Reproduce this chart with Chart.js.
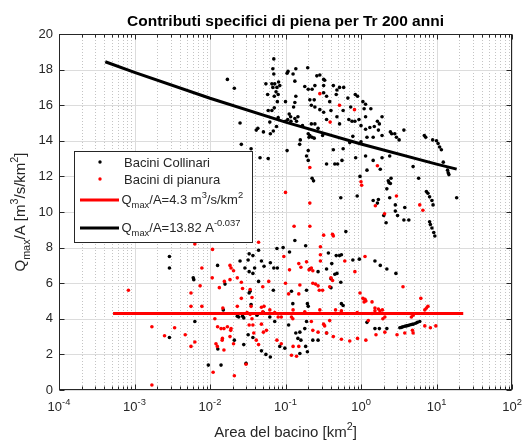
<!DOCTYPE html>
<html>
<head>
<meta charset="utf-8">
<script src="https://cdn.jsdelivr.net/npm/chart.js@4.4.1/dist/chart.umd.min.js"></script>
<style>
  html, body { margin: 0; padding: 0; background: #fff; }
  canvas { display: block; }
</style>
</head>
<body>
<canvas id="chart" width="528" height="444"></canvas>
<script>
// [area km2, Qmax/A]
const collinari = [
  [0.070,18.6],[0.068,18.05],[0.070,17.75],[0.108,17.9],[0.105,17.8],[0.137,18.05],[0.126,17.75],[0.197,18.1],
  [0.133,17.35],[0.26,17.65],[0.285,17.7],[0.32,17.45],[0.017,17.45],[0.055,17.2],[0.066,17.2],[0.072,17.2],
  [0.081,17.3],[0.084,17.1],[0.068,17.0],[0.077,17.0],[0.075,16.75],[0.058,16.6],[0.071,16.5],[0.080,16.6],
  [0.078,16.2],[0.10,16.2],[0.137,16.5],[0.133,16.15],[0.18,17.05],[0.20,16.9],[0.225,16.9],[0.245,17.1],
  [0.32,17.1],[0.33,17.4],[0.43,17.1],[0.52,17.0],[0.021,16.95],[0.21,16.3],[0.24,16.3],[0.22,16.0],
  [0.32,16.7],[0.35,16.5],[0.385,16.2],[0.128,15.9],[0.059,15.7],[0.066,15.7],[0.071,15.85],[0.245,15.9],
  [0.285,15.75],[0.32,15.6],[0.40,15.7],[0.58,15.7],[0.112,15.5],[0.117,15.35],[0.107,15.2],[0.10,15.1],
  [0.118,15.1],[0.133,15.25],[0.14,15.1],[0.146,15.35],[0.08,15.3],[0.062,15.05],[0.076,14.8],[0.025,15.0],
  [0.043,14.7],[0.041,14.6],[0.051,14.5],[0.063,14.4],[0.069,14.55],[0.22,14.95],[0.245,14.95],[0.35,15.2],
  [0.168,14.85],[0.20,14.4],[0.21,14.3],[0.225,14.2],[0.205,14.2],[0.27,14.7],[0.31,14.3],[0.157,14.05],
  [0.154,13.8],[0.24,14.15],[0.026,13.8],[0.035,13.55],[0.046,13.05],[0.059,13.0],[0.105,13.45],[0.20,13.45],
  [0.19,13.15],[0.20,12.9],[0.43,13.5],[0.58,13.55],[0.56,12.9],[0.35,12.7],[0.45,12.7],[0.49,12.7],
  [0.225,11.9],[0.235,11.75],
  [0.59,17.0],[0.48,16.85],[0.47,16.6],[0.67,16.4],[0.84,16.6],[0.90,16.5],[1.06,16.2],[1.15,16.05],
  [0.73,15.9],[1.35,15.8],[1.1,15.8],[0.48,15.35],[0.69,15.2],[0.76,15.1],[0.83,15.1],[0.94,15.2],
  [1.15,15.35],[0.52,14.95],[1.0,14.85],[1.15,14.65],[1.31,14.75],[1.5,14.8],[1.65,15.1],[1.75,14.95],
  [1.7,14.6],[1.9,15.35],[2.45,14.5],[2.55,14.4],[2.8,14.4],[2.95,14.2],[3.2,14.05],[3.7,14.6],
  [0.78,14.25],[0.71,13.9],[1.0,13.95],[1.2,14.2],[1.45,14.2],[1.9,14.3],[6.9,14.3],[7.2,14.2],
  [8.9,14.05],[10.0,14.0],[10.5,13.85],[11.0,13.65],[11.6,13.5],[0.85,13.05],[1.15,13.15],[1.45,12.9],
  [1.8,12.4],[1.9,13.05],[2.4,13.15],[4.9,12.55],[5.8,11.9],[12.3,12.8],[14.0,12.35],[14.3,12.2],
  [14.6,12.1],[0.97,12.0],[1.2,12.35],[2.5,11.9],[2.3,11.75],[2.35,11.65],[2.45,11.6],[2.2,11.3],
  [7.35,11.15],[7.7,11.05],[8.1,10.85],[8.7,10.65],[9.0,10.4],[0.54,10.8],[0.89,10.9],[2.4,10.8],
  [1.45,10.65],[1.7,10.7],[1.65,10.5],[2.85,10.4],[3.8,10.25],[2.85,10.05],[3.05,9.8],[2.0,9.8],
  [2.15,9.4],[3.7,9.55],[4.3,9.55],[8.1,9.45],[8.3,9.3],[8.7,9.1],[9.2,8.85],[9.5,8.65],
  [18.5,10.8],[0.63,8.9],
  [0.133,8.4],[0.185,8.1],[0.077,7.95],[0.093,8.0],[0.113,7.75],[0.033,7.65],[0.037,7.55],[0.044,7.85],
  [0.025,7.25],[0.032,7.3],[0.029,6.85],[0.033,6.65],[0.037,6.55],[0.039,6.85],[0.048,7.25],[0.052,6.95],
  [0.063,7.15],[0.070,6.85],[0.078,6.85],[0.044,6.1],[0.034,5.55],[0.033,5.45],[0.035,4.8],[0.0158,5.95],
  [0.015,4.5],[0.023,4.15],[0.024,4.1],[0.027,4.15],[0.028,4.05],[0.042,4.2],[0.051,4.35],[0.062,4.1],
  [0.12,5.55],[0.125,4.85],[0.195,4.85],[0.20,4.7],[0.21,6.8],[0.27,6.65],[0.19,3.85],[0.18,3.45],
  [0.155,3.25],[0.137,3.2],[0.146,2.9],[0.16,2.8],[0.185,2.45],[0.195,2.15],[0.155,2.05],[0.037,2.95],
  [0.028,2.55],[0.021,2.8],[0.032,3.1],[0.048,2.2],[0.055,2.0],[0.063,1.85],[0.030,1.5],[0.014,1.4],
  [0.0095,1.4],[0.23,2.8],[0.27,2.8],[0.0029,7.5],[0.0029,6.85],[0.0060,6.3],[0.0061,6.2],[0.0063,3.85],
  [0.0029,2.95],[0.0127,2.3],[0.0126,7.0],[0.069,5.6],[0.19,5.6],[0.11,3.65],[0.072,3.85],[0.098,2.35],
  [0.084,2.45],
  [0.37,7.7],[0.47,7.55],[0.52,7.55],[0.55,7.6],[0.41,7.1],[0.35,6.8],[0.78,7.3],[0.95,7.35],
  [1.53,7.25],[1.8,7.0],[2.2,6.8],[2.9,6.55],[0.45,6.5],[0.48,6.55],[0.40,6.25],[0.40,5.75],
  [0.54,6.05],[0.55,4.85],[0.58,4.75],[1.2,3.8],[1.53,3.45],[1.75,3.45],[2.2,3.45],[3.27,3.5],
  [3.45,3.52],[3.6,3.55],[3.8,3.58],[4.0,3.6],[4.2,3.62],[4.4,3.65],[4.65,3.68],[4.9,3.7],
  [5.3,3.75],[5.6,3.8],[6.0,3.85],[0.35,3.2]
];

const pianura = [
  [0.285,16.65],[0.52,16.0],[0.39,15.05],[0.21,12.5],[0.82,15.75],[1.65,12.6],[1.0,11.7],[1.02,11.5],
  [2.95,10.9],[1.55,10.35],[6.0,10.4],[6.6,10.1],[2.05,9.9],[0.10,11.1],[0.21,10.5],[0.13,9.2],
  [0.21,9.2],[0.32,8.7],[0.42,8.75],[0.43,8.65],[0.29,8.05],
  [0.0063,8.2],[0.0108,7.9],[0.044,8.3],[0.0078,6.85],[0.0056,5.45],[0.0074,5.85],[0.0056,4.7],[0.0078,4.7],
  [0.00083,5.6],[0.0017,3.55],[0.0034,3.5],[0.0025,3.05],[0.0047,3.1],[0.0056,2.45],[0.0063,2.7],[0.0017,0.28],
  [0.011,1.0],[0.021,0.8],[0.0107,6.3],[0.0133,5.75],[0.0155,6.1],[0.0148,4.6],[0.0116,4.0],[0.0126,3.55],
  [0.014,3.45],[0.017,3.55],[0.019,3.45],[0.0146,2.9],[0.012,2.6],[0.0125,2.45],[0.0205,2.6],[0.0184,3.0],
  [0.0184,7.0],[0.019,6.85],[0.0205,6.7],[0.0184,6.2],[0.023,6.3],[0.026,5.15],[0.0153,3.45],[0.0188,3.35],
  [0.0145,2.8],[0.0153,2.25],[0.023,4.7],[0.026,6.05],[0.027,5.7],[0.034,5.65],[0.036,5.2],[0.035,4.7],
  [0.036,4.0],[0.033,3.65],[0.037,3.65],[0.038,3.2],[0.041,2.8],[0.044,2.55],[0.030,1.45],[0.031,4.35],
  [0.034,4.25],
  [0.05,5.8],[0.10,6.0],[0.19,7.2],[0.15,7.1],[0.16,6.9],[0.205,6.75],[0.22,6.85],[0.23,6.7],
  [0.29,7.6],[0.29,7.25],[0.23,6.0],[0.27,5.85],[0.25,5.95],[0.28,5.6],[0.31,5.6],[0.40,6.3],
  [0.42,6.15],[0.385,5.8],[0.61,7.25],[1.13,7.5],[0.83,6.65],[0.97,5.45],[1.06,5.15],[1.13,5.1],
  [1.16,5.0],[1.1,4.95],[1.4,4.95],[1.53,4.6],[1.7,4.55],[1.92,4.5],[1.78,4.45],[3.6,5.8],
  [6.2,5.15],[7.0,4.5],[7.35,4.6],[7.7,4.7],[4.9,4.2],[4.65,4.1],[1.95,4.0],[2.07,4.1],
  [1.4,4.3],[1.53,4.45],[0.89,4.35],[1.25,3.9],[0.46,4.5],[0.55,4.45],[0.285,4.5],[0.52,4.3],
  [0.18,4.4],[0.126,4.5],[0.062,4.5],[0.072,4.35],[0.08,4.1],[0.088,4.1],[0.048,4.65],[0.052,4.7],
  [0.05,4.4],[0.12,4.1],[0.125,4.0],[0.22,3.85],[0.32,3.7],[0.385,3.9],[0.33,3.6],[0.23,3.35],
  [0.27,3.25],[0.35,3.2],[0.43,3.0],[0.55,2.85],[0.71,2.75],[0.90,2.9],[1.16,2.8],[1.58,3.1],
  [2.07,3.25],[3.0,3.1],[3.8,3.2],[4.8,3.35],[4.9,3.2],[7.0,3.6],[8.3,3.5],[9.8,3.6],
  [0.077,2.8],[0.088,2.6],[0.126,2.45],[0.15,2.45],[0.12,1.95],[0.14,1.9],[0.051,3.25],[0.056,3.35],
  [0.048,3.7],[0.113,6.75],[0.095,7.5],[0.06,6.1],[0.11,5.4],[0.15,5.4],[0.155,5.9]
];

// fitted curve Qmax/A = 13.82 A^-0.037
const fitArea = [0.00041, 0.001, 0.01, 0.1, 1, 10, 18.5];
const fitQ = [18.44, 17.84, 16.39, 15.05, 13.82, 12.69, 12.41];
// constant Qmax/A = 4.3
const meanArea = [0.00052, 22.6];
const meanQ = [4.3, 4.3];

const yTicks = [0, 2, 4, 6, 8, 10, 12, 14, 16, 18, 20];
const xTickExp = [-4, -3, -2, -1, 0, 1, 2];

const FAMILY = '"Liberation Sans", Arial, Helvetica, sans-serif';
const INK = '#262626';

// text with sub/superscripts, parts like {t:'max', s:'sub'}
function rich(ctx, parts, x, y, size, align, weight) {
  const w0 = weight || '';
  const fsz = p => (p.s ? size * 0.72 : size);
  let w = 0;
  for (const p of parts) {
    ctx.font = `${w0} ${fsz(p)}px ${FAMILY}`;
    w += ctx.measureText(p.t).width;
  }
  let cx = align === 'center' ? x - w / 2 : x;
  ctx.textAlign = 'left';
  ctx.textBaseline = 'alphabetic';
  for (const p of parts) {
    ctx.font = `${w0} ${fsz(p)}px ${FAMILY}`;
    const dy = p.s === 'sub' ? size * 0.32 : p.s === 'sup' ? -size * 0.45 : 0;
    ctx.fillText(p.t, cx, y + dy);
    cx += ctx.measureText(p.t).width;
  }
  return w;
}

function seg(ctx, x1, y1, x2, y2) {
  ctx.beginPath();
  ctx.moveTo(x1, y1);
  ctx.lineTo(x2, y2);
  ctx.stroke();
}

const matlabAxes = {
  id: 'matlabAxes',
  beforeDatasetsDraw(chart) {
    const { ctx, chartArea: a, scales: { x, y } } = chart;
    ctx.save();
    ctx.lineWidth = 1;
    // minor vertical grid (dotted)
    ctx.strokeStyle = '#c4c4c4';
    ctx.setLineDash([1, 2]);
    xTickExp.slice(0, -1).forEach(e => {
      for (let m = 2; m <= 9; m++) {
        const px = Math.round(x.getPixelForValue(m * Math.pow(10, e))) + 0.5;
        seg(ctx, px, a.top, px, a.bottom);
      }
    });
    ctx.setLineDash([]);
    // major grid
    ctx.strokeStyle = '#dcdcdc';
    xTickExp.forEach(e => {
      const px = Math.round(x.getPixelForValue(Math.pow(10, e))) + 0.5;
      seg(ctx, px, a.top, px, a.bottom);
    });
    yTicks.forEach(v => {
      const py = Math.round(y.getPixelForValue(v)) + 0.5;
      seg(ctx, a.left, py, a.right, py);
    });
    ctx.restore();
  },
  afterDatasetsDraw(chart) {
    const { ctx, chartArea: a, scales: { x, y } } = chart;
    const L = Math.round(a.left) + 0.5, R = Math.round(a.right) - 0.5;
    const T = Math.round(a.top) + 0.5, B = Math.round(a.bottom) - 0.5;
    ctx.save();
    ctx.strokeStyle = INK;
    ctx.lineWidth = 1;
    ctx.strokeRect(L, T, R - L, B - T);

    // ticks
    xTickExp.forEach(e => {
      const px = Math.round(x.getPixelForValue(Math.pow(10, e))) + 0.5;
      seg(ctx, px, B, px, B - 5);
      seg(ctx, px, T, px, T + 5);
      if (e < 2) {
        for (let m = 2; m <= 9; m++) {
          const mx = Math.round(x.getPixelForValue(m * Math.pow(10, e))) + 0.5;
          seg(ctx, mx, B, mx, B - 3);
          seg(ctx, mx, T, mx, T + 3);
        }
      }
    });
    yTicks.forEach(v => {
      const py = Math.round(y.getPixelForValue(v)) + 0.5;
      seg(ctx, L, py, L + 5, py);
      seg(ctx, R, py, R - 5, py);
    });

    // tick labels
    ctx.fillStyle = INK;
    ctx.font = `13px ${FAMILY}`;
    ctx.textAlign = 'right';
    ctx.textBaseline = 'middle';
    yTicks.forEach(v => ctx.fillText(String(v), 53, y.getPixelForValue(v)));
    xTickExp.forEach(e => {
      rich(ctx, [{ t: '10' }, { t: String(e), s: 'sup' }], x.getPixelForValue(Math.pow(10, e)), 411, 13, 'center');
    });

    // axis titles
    rich(ctx, [{ t: 'Area del bacino [km' }, { t: '2', s: 'sup' }, { t: ']' }], (a.left + a.right) / 2, 437, 15, 'center');
    ctx.save();
    ctx.translate(25, (a.top + a.bottom) / 2);
    ctx.rotate(-Math.PI / 2);
    rich(ctx, [{ t: 'Q' }, { t: 'max', s: 'sub' }, { t: '/A [m' }, { t: '3', s: 'sup' },
      { t: '/s/km' }, { t: '2', s: 'sup' }, { t: ']' }], 0, 0, 15, 'center');
    ctx.restore();

    // title
    ctx.fillStyle = '#000';
    rich(ctx, [{ t: 'Contributi specifici di piena per Tr 200 anni' }], (a.left + a.right) / 2, 26, 15.5, 'center', 'bold');

    // legend
    const bx = 74.5, by = 151.5, bw = 178, bh = 91;
    ctx.fillStyle = '#fff';
    ctx.fillRect(bx, by, bw, bh);
    ctx.strokeStyle = INK;
    ctx.strokeRect(bx, by, bw, bh);
    ctx.fillStyle = '#000';
    ctx.beginPath(); ctx.arc(100, 162, 1.7, 0, Math.PI * 2); ctx.fill();
    ctx.fillStyle = '#ff0000';
    ctx.beginPath(); ctx.arc(100, 179, 1.7, 0, Math.PI * 2); ctx.fill();
    ctx.fillStyle = INK;
    rich(ctx, [{ t: 'Bacini Collinari' }], 124, 166.5, 13, 'left');
    rich(ctx, [{ t: 'Bacini di pianura' }], 124, 183.5, 13, 'left');
    ctx.lineWidth = 3;
    ctx.strokeStyle = '#ff0000';
    seg(ctx, 80, 200, 119, 200);
    ctx.strokeStyle = '#000';
    seg(ctx, 80, 228, 119, 228);
    ctx.fillStyle = INK;
    rich(ctx, [{ t: 'Q' }, { t: 'max', s: 'sub' }, { t: '/A=4.3 m' }, { t: '3', s: 'sup' },
      { t: '/s/km' }, { t: '2', s: 'sup' }], 121.5, 204, 13, 'left');
    rich(ctx, [{ t: 'Q' }, { t: 'max', s: 'sub' }, { t: '/A=13.82 A' }, { t: '-0.037', s: 'sup' }],
      121.5, 232, 13, 'left');
    ctx.restore();
  }
};

const toXY = pts => pts.map(p => ({ x: p[0], y: p[1] }));
const zipXY = (xs, ys) => xs.map((v, i) => ({ x: v, y: ys[i] }));

new Chart(document.getElementById('chart'), {
  type: 'scatter',
  data: {
    datasets: [
      {
        label: 'Qmax/A=13.82 A^-0.037',
        data: zipXY(fitArea, fitQ),
        showLine: true, borderColor: '#000', borderWidth: 3,
        pointRadius: 0, order: 0
      },
      {
        label: 'Qmax/A=4.3 m3/s/km2',
        data: zipXY(meanArea, meanQ),
        showLine: true, borderColor: '#ff0000', borderWidth: 3,
        pointRadius: 0, order: 1
      },
      {
        label: 'Bacini di pianura',
        data: toXY(pianura),
        backgroundColor: '#ff0000', borderWidth: 0,
        pointRadius: 1.8, order: 2
      },
      {
        label: 'Bacini Collinari',
        data: toXY(collinari),
        backgroundColor: '#000', borderWidth: 0,
        pointRadius: 1.8, order: 3
      }
    ]
  },
  options: {
    responsive: false,
    animation: false,
    devicePixelRatio: 1,
    layout: { padding: { left: 59, right: 16, top: 34, bottom: 54 } },
    scales: {
      x: { type: 'logarithmic', min: 1e-4, max: 100, display: false },
      y: { type: 'linear', min: 0, max: 20, display: false }
    },
    plugins: { legend: { display: false }, tooltip: { enabled: false } }
  },
  plugins: [matlabAxes]
});
</script>
</body>
</html>
